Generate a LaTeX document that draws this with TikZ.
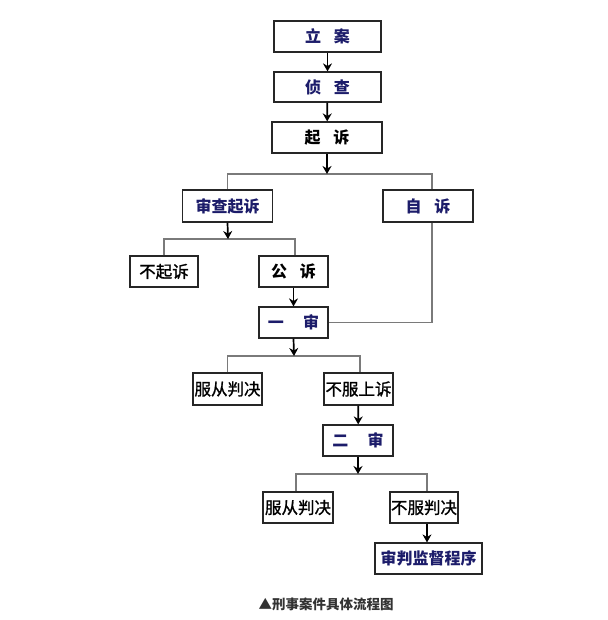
\documentclass[tikz,border=0pt]{standalone}
\usepackage{fontspec}
\setmainfont{Noto Sans CJK SC}
\newfontfamily\cjk{Noto Sans CJK SC}
\newfontfamily\cjkmid[FakeBold=1.2]{Noto Sans CJK SC}
\usetikzlibrary{arrows.meta}
\definecolor{navy}{HTML}{1C1C6A}
\definecolor{linegray}{HTML}{7A7A7A}
\definecolor{capgray}{HTML}{333333}
\tikzset{
  box/.style={draw=black!85, line width=1.2pt, fill=white, inner sep=0pt, font=\cjk\bfseries\fontsize{16}{16}\selectfont},
  plainbox/.style={box, font=\cjkmid\fontsize{16.5}{16.5}\selectfont},
  bluetxt/.style={text=navy},
  arr/.style={draw=black, line width=1.7pt, -{Stealth[length=8pt,width=9pt]}},
  branch/.style={draw=linegray, line width=1.7pt},
}
\begin{document}
\begin{tikzpicture}[x=1pt,y=-1pt]
\useasboundingbox (0,0) rectangle (607,620);
\node[box,bluetxt,minimum width=107pt,minimum height=31pt] (la) at (327.5,36.5) {立\hspace{0.8em}案};
\node[box,bluetxt,minimum width=107pt,minimum height=30pt] (zc) at (327.5,87) {侦\hspace{0.8em}查};
\node[box,minimum width=110pt,minimum height=31pt] (qs) at (327,137.5) {起\hspace{0.8em}诉};
\node[box,bluetxt,minimum width=90pt,minimum height=32pt] (sc) at (227.5,206) {审查起诉};
\node[box,bluetxt,minimum width=90pt,minimum height=32pt] (zs) at (428,206) {自\hspace{0.8em}诉};
\node[plainbox,minimum width=68pt,minimum height=31pt] (bqs) at (164,271.5) {不起诉};
\node[box,minimum width=69pt,minimum height=31pt] (gs) at (293.5,271.5) {公\hspace{0.8em}诉};
\node[box,bluetxt,minimum width=69pt,minimum height=31pt] (ys) at (293.5,322.5) {一\hspace{1.2em}审};
\node[plainbox,minimum width=69pt,minimum height=32pt] (fc1) at (227.5,389) {服从判决};
\node[plainbox,minimum width=69pt,minimum height=32pt] (bsu) at (358.5,389) {不服上诉};
\node[box,bluetxt,minimum width=70pt,minimum height=31pt] (es) at (358,440.5) {二\hspace{1.2em}审};
\node[plainbox,minimum width=70pt,minimum height=31pt] (fc2) at (298,507.5) {服从判决};
\node[plainbox,minimum width=68pt,minimum height=31pt] (bpj) at (424,507.5) {不服判决};
\node[box,bluetxt,minimum width=107pt,minimum height=31pt] (jd) at (428.5,558.5) {审判监督程序};
\node[font=\cjk\bfseries\fontsize{13.5}{13.5}\selectfont, text=capgray] (cap) at (326,604) {▲刑事案件具体流程图};
% connectors
\coordinate (b0) at (327,174);
\coordinate (b1) at (228,239);
\coordinate (b2) at (294,356);
\coordinate (b3) at (358,474);
\draw[arr] (la) -- (zc);
\draw[arr] (zc) -- (qs);
\draw[branch] (sc.north) |- (b0) -| ([xshift=4pt]zs.north);
\draw[arr] (qs.south) -- (b0);
\draw[branch] (bqs.north) |- (b1) -| ([xshift=1.5pt]gs.north);
\draw[arr] (sc.south) -- (b1);
\draw[arr] (gs) -- (ys);
\draw[branch] ([xshift=4pt]zs.south) |- (ys.east);
\draw[branch] (fc1.north) |- (b2) -| ([xshift=1.5pt]bsu.north);
\draw[arr] (ys.south) -- (b2);
\draw[arr] (bsu) -- (es);
\draw[branch] ([xshift=-2pt]fc2.north) |- (b3) -| ([xshift=3pt]bpj.north);
\draw[arr] (es.south) -- (b3);
\draw[arr] ([xshift=3pt]bpj.south) -- ([xshift=3pt]bpj.south |- jd.north);
\end{tikzpicture}
\end{document}
